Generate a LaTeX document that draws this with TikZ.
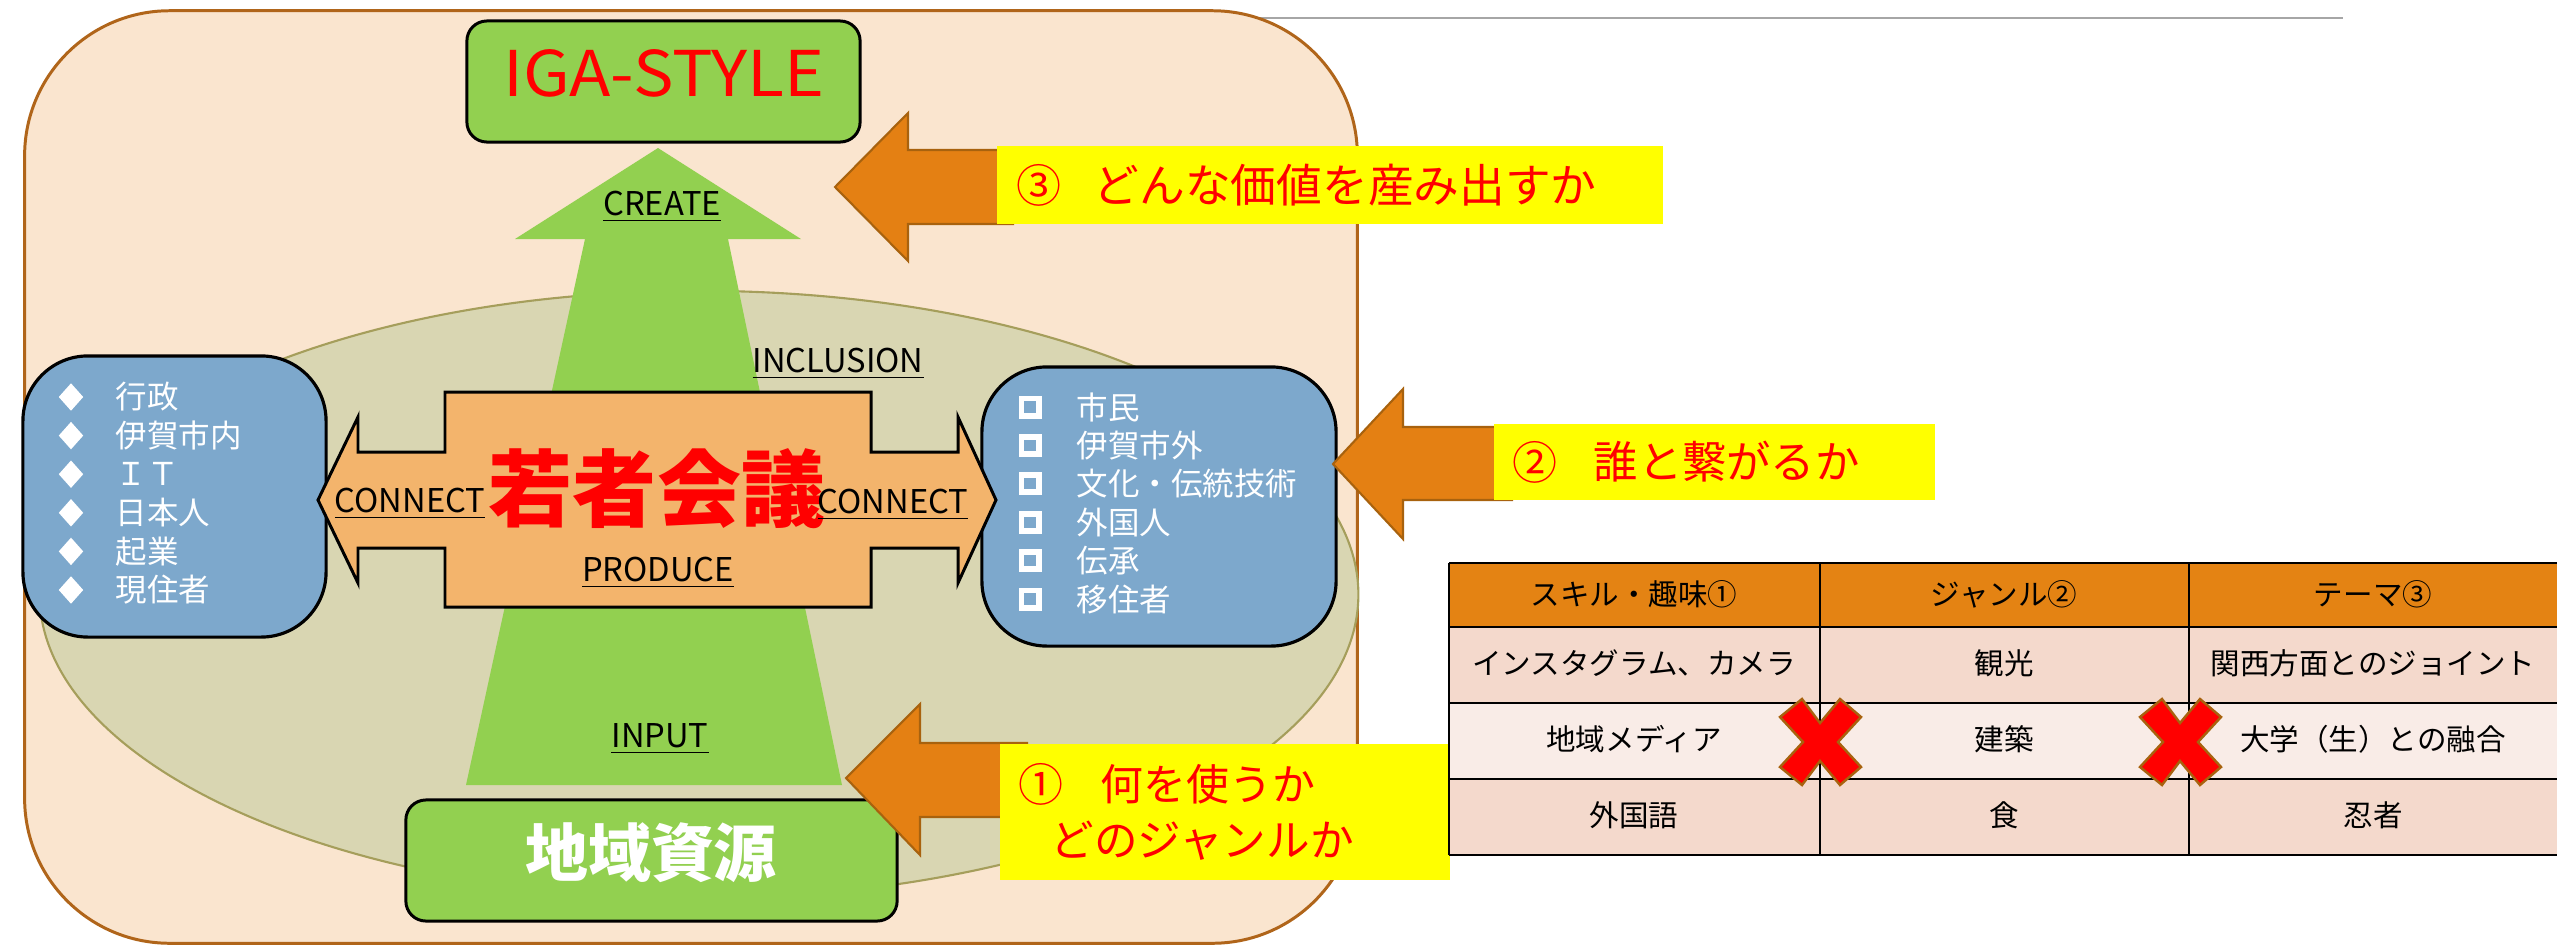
\documentclass[tikz,border=0pt]{standalone}
\usepackage{fontspec}
\setmainfont{Noto Sans CJK JP}
\usetikzlibrary{shapes.geometric}
\definecolor{bgfill}{HTML}{FAE5CF}
\definecolor{bgline}{HTML}{B0651A}
\definecolor{ellfill}{HTML}{D9D6B2}
\definecolor{ellline}{HTML}{A59E5B}
\definecolor{grn}{HTML}{92D050}
\definecolor{blu}{HTML}{7DA8CC}
\definecolor{ctr}{HTML}{F3B46C}
\definecolor{org}{HTML}{E48013}
\definecolor{orgline}{HTML}{A8620E}
\definecolor{yel}{HTML}{FFFF00}
\definecolor{rowA}{HTML}{F4D9CC}
\definecolor{rowB}{HTML}{F9ECE7}
\definecolor{hdr}{HTML}{E48313}
\definecolor{topline}{HTML}{A6A6A6}
\newcommand\fsz[1]{\fontsize{#1}{#1}\selectfont}
\begin{document}
\begin{tikzpicture}[x=0.01cm,y=-0.01cm,
  greenbox/.style={draw=black,line width=0.85pt,fill=grn,rounded corners=0.2cm,inner sep=0},
  bluebox/.style={draw=black,line width=0.9pt,fill=blu,rounded corners=0.65cm,inner sep=0},
  item/.style={anchor=west,text=white,font=\fsz{8.96pt},inner sep=0},
  lbl/.style={anchor=base,font=\fsz{9.3pt},inner sep=0},
  yelbox/.style={fill=yel,inner sep=0},
  ylab/.style={anchor=west,text=red,font=\fsz{12.8pt},inner sep=0},
  orgarrow/.style={fill=org,draw=orgline,line width=0.6pt,line join=miter},
  cell/.style={font=\fsz{8.4pt},inner sep=0},
  tline/.style={draw=black,line width=0.7pt},
  redx/.pic={\draw[fill=red,draw=orgline,line width=0.7pt,line join=miter]
     (-40,-25) -- (-18,-43) -- (0,-19) -- (20,-43) -- (41,-25) -- (18,0) --
     (41,25) -- (20,43) -- (0,19) -- (-18,43) -- (-40,25) -- (-17,0) -- cycle;}
]
\useasboundingbox (0,0) rectangle (2557,945);
% top grey rule
\coordinate (ruleA) at (1200,18);
\coordinate (ruleB) at (2343,18);
\draw[topline,line width=0.6pt] (ruleA) -- (ruleB);
% outer frame
\node[draw=bgline,fill=bgfill,line width=0.85pt,rounded corners=1.45cm,
      minimum width=13.32cm,minimum height=9.32cm,inner sep=0] (outer) at (691,477) {};
% ellipse
\node[ellipse,draw=ellline,fill=ellfill,line width=0.6pt,
      minimum width=13.18cm,minimum height=6.07cm,inner sep=0] (ell) at (699,594.5) {};
% big green arrow
\fill[grn] (658,148) -- (801,239) -- (728,239) -- (842,785) -- (466,785)
   -- (585,239) -- (515,239) -- cycle;
% IGA-STYLE box
\node[greenbox,minimum width=3.93cm,minimum height=1.21cm] (iga) at (663.5,81.5) {};
\node[font=\fsz{17.4pt},text=red,inner sep=0] (igatxt) at (664,73.5) {\scalebox{1.11}[1.03]{IGA-STYLE}};
% blue boxes
\node[bluebox,minimum width=3.03cm,minimum height=2.81cm] (lbox) at (174.5,496.5) {};
\node[bluebox,minimum width=3.54cm,minimum height=2.79cm] (rbox) at (1159,506.5) {};
\foreach \t [count=\i from 0] in {行政,伊賀市内,ＩＴ,日本人,起業,現住者}{
  \node[diamond,fill=white,inner sep=0,minimum width=0.25cm,minimum height=0.28cm]
     (ld\i) at (71,397+38.6*\i) {};
  \node[item] (lt\i) at (115,397+38.6*\i) {\t};
}
\foreach \t [count=\i from 0] in {市民,伊賀市外,文化・伝統技術,外国人,伝承,移住者}{
  \node[draw=white,line width=1.7pt,minimum size=0.17cm,inner sep=0]
     (rs\i) at (1030,407+38.4*\i) {};
  \node[item] (rt\i) at (1076,407+38.4*\i) {\t};
}
% central double arrow
\draw[fill=ctr,draw=black,line width=0.85pt,line join=miter]
  (318,500) -- (358,417) -- (358,452) -- (445,452) -- (445,392) -- (871,392)
  -- (871,452) -- (958,452) -- (958,417) -- (996,500) -- (958,583) -- (958,548)
  -- (871,548) -- (871,607) -- (445,607) -- (445,548) -- (358,548) -- (358,583) -- cycle;
\node[font=\fsz{23.9pt}\bfseries,text=red,inner sep=0] (kaigi) at (657,489) {若者会議};
% labels
\node[lbl] (create) at (662,215) {\underline{CREATE}};
\node[lbl] (inclusion) at (838,372) {\underline{INCLUSION}};
\node[lbl] (conl) at (410,512) {\underline{CONNECT}};
\node[lbl] (conr) at (893,513) {\underline{CONNECT}};
\node[lbl] (produce) at (658,581) {\underline{PRODUCE}};
\node[lbl] (input) at (660,747) {\underline{INPUT}};
% bottom box
\node[greenbox,minimum width=4.91cm,minimum height=1.21cm] (chiiki) at (651.5,860.5) {};
\node[font=\fsz{17.9pt}\bfseries,text=white,inner sep=0] (chiikitxt) at (651,853) {地域資源};
% orange arrows
\draw[orgarrow] (835,187) -- (908,113) -- (908,150) -- (1013,150) -- (1013,224)
   -- (908,224) -- (908,261) -- cycle;
\draw[orgarrow] (1333,464) -- (1403,389) -- (1403,427) -- (1512,427) -- (1512,500)
   -- (1403,500) -- (1403,539) -- cycle;
\draw[orgarrow] (846,778) -- (920,704) -- (920,743) -- (1027,743) -- (1027,817)
   -- (920,817) -- (920,855) -- cycle;
% yellow labels
\node[yelbox,minimum width=6.66cm,minimum height=0.78cm] (q3) at (1330,185) {};
\node[ylab] (q3n) at (1016,185) {③};
\node[ylab,font=\fsz{13pt}] (q3t) at (1093,185) {どんな価値を産み出すか};
\node[yelbox,minimum width=4.41cm,minimum height=0.76cm] (q2) at (1714.5,462) {};
\node[ylab] (q2n) at (1512,462) {②};
\node[ylab,font=\fsz{12.6pt}] (q2t) at (1593,462) {誰と繋がるか};
\node[yelbox,minimum width=4.5cm,minimum height=1.36cm] (q1) at (1225,812) {};
\node[ylab] (q1n) at (1018,784) {①};
\node[ylab,font=\fsz{12.2pt}] (q1t) at (1100,784) {何を使うか};
\node[ylab,font=\fsz{12.4pt}] (q1u) at (1050,841) {どのジャンルか};
% table
\fill[hdr] (1449,563) rectangle (2557,627);
\fill[rowA] (1449,627) rectangle (2557,703);
\fill[rowB] (1449,703) rectangle (2557,779);
\fill[rowA] (1449,779) rectangle (2557,855);
\foreach \yy in {563,627,703,779,855}{\draw[tline] (1449,\yy) -- (2557,\yy);}
\foreach \xx in {1449,1820,2189}{\draw[tline] (\xx,563) -- (\xx,855);}
\node[cell] (h1) at (1634,594) {スキル・趣味①};
\node[cell] (h2) at (2004,594) {ジャンル②};
\node[cell] (h3) at (2373,594) {テーマ③};
\node[cell] (a1) at (1634,663) {インスタグラム、カメラ};
\node[cell] (a2) at (2004,663) {観光};
\node[cell] (a3) at (2373,663) {関西方面とのジョイント};
\node[cell] (b1) at (1634,739) {地域メディア};
\node[cell] (b2) at (2004,739) {建築};
\node[cell] (b3) at (2373,739) {大学（生）との融合};
\node[cell] (c1) at (1634,815) {外国語};
\node[cell] (c2) at (2004,815) {食};
\node[cell] (c3) at (2373,815) {忍者};
% red crosses
\pic at (1820,742) {redx};
\pic at (2180,742) {redx};
\end{tikzpicture}
\end{document}
